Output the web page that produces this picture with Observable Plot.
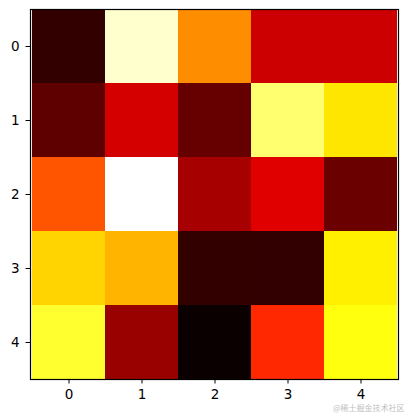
<!DOCTYPE html>
<html>
<head>
<meta charset="utf-8">
<script src="https://cdn.jsdelivr.net/npm/d3@7"></script>
<script src="https://cdn.jsdelivr.net/npm/@observablehq/plot@0.6"></script>
<style>
  html, body { margin: 0; padding: 0; background: #fff; }
  #chart svg g[aria-label$="tick label"] text,
  #chart svg g[aria-label$="tick label"] { font-size: 13.5px; font-family: "DejaVu Sans"; fill: #000; }
</style>
</head>
<body>
<div id="chart"></div>
<script>
// 5x5 matrix values (row-major), shown with the "hot" colormap
const rowLabels = [0, 1, 2, 3, 4];
const colLabels = [0, 1, 2, 3, 4];
const row0 = [0.06, 0.95, 0.575, 0.289, 0.289];
const row1 = [0.125, 0.30, 0.136, 0.858, 0.708];
const row2 = [0.491, 1.00, 0.232, 0.319, 0.144];
const row3 = [0.682, 0.634, 0.06, 0.058, 0.723];
const row4 = [0.794, 0.213, 0.00, 0.425, 0.76];
const matrix = [row0, row1, row2, row3, row4];

// matplotlib "hot" colormap stops
const hotStops = [0, 0.365079, 0.746032, 1];
const hotColors = ["#0b0000", "#ff0000", "#ffff00", "#ffffff"];

const cells = [];
matrix.forEach((r, i) => r.forEach((v, j) => cells.push({row: rowLabels[i], col: colLabels[j], value: v})));

const chart = Plot.plot({
  width: 408,
  height: 413,
  marginLeft: 30,
  marginRight: 10,
  marginTop: 9,
  marginBottom: 34,
  padding: 0,
  style: {fontFamily: "DejaVu Sans", fontSize: "13.5px", color: "black", background: "white"},
  x: {domain: colLabels, label: null},
  y: {domain: rowLabels, label: null},
  color: {type: "linear", domain: hotStops, range: hotColors, interpolate: "rgb"},
  marks: [
    Plot.cell(cells, {x: "col", y: "row", fill: "value", inset: 0}),
    Plot.axisX({tickSize: 4.5, tickPadding: 5, fontSize: 13.5, label: null, fill: "black"}),
    Plot.axisY({tickSize: 4.5, tickPadding: 6.5, fontSize: 13.5, label: null, fill: "black"}),
    Plot.frame({stroke: "black", strokeWidth: 1.2}),
    Plot.text(["@稀土掘金技术社区"], {frameAnchor: "bottom-right", dx: 6, dy: 31, textAnchor: "end", fontSize: 8, fill: "#c0c0c0", fontFamily: "Noto Sans CJK SC"})
  ]
});
document.getElementById("chart").appendChild(chart);
</script>
</body>
</html>
